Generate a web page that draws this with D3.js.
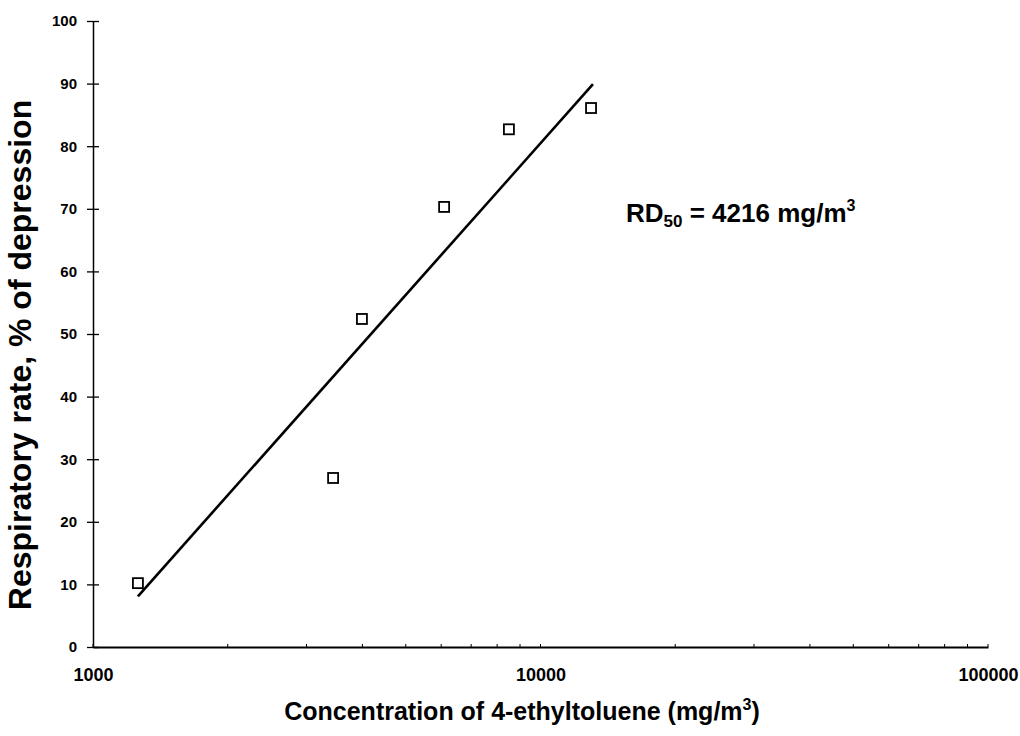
<!DOCTYPE html>
<html>
<head>
<meta charset="utf-8">
<script src="https://cdn.jsdelivr.net/npm/d3@7/dist/d3.min.js"></script>
<style>
html,body{margin:0;padding:0;background:#fff;}
svg{display:block;font-family:"Liberation Sans",Arial,sans-serif;font-weight:bold;}
</style>
</head>
<body>
<svg id="chart" width="1020" height="736"></svg>
<script>
// Data
const concentrations = [1260, 3440, 3990, 6090, 8500, 12970];
const depression = [10.2, 27.0, 52.4, 70.3, 82.7, 86.1];
const fitX = [1260, 13100];
const fitY = [8.1, 89.9];
const yTicks = [0, 10, 20, 30, 40, 50, 60, 70, 80, 90, 100];
const xMajorTicks = [1000, 10000, 100000];
const xMinorTicks = [2000, 3000, 4000, 5000, 6000, 7000, 8000, 9000,
                     20000, 30000, 40000, 50000, 60000, 70000, 80000, 90000];

const svg = d3.select("#chart");
const x = d3.scaleLog().domain([1000, 100000]).range([93, 988]);
const y = d3.scaleLinear().domain([0, 100]).range([647, 21]);

// Y axis
const yAxis = d3.axisLeft(y).tickValues(yTicks).tickSizeInner(5).tickSizeOuter(0).tickPadding(10).tickFormat(d3.format("d"));
const gy = svg.append("g").attr("transform", `translate(${x(1000)},0)`).call(yAxis);
gy.select(".domain").attr("stroke", "#000").attr("stroke-width", 1.5);
gy.selectAll(".tick line").attr("x2", 6).attr("x1", -6).attr("stroke-width", 1.3);
gy.selectAll(".tick text").attr("font-size", 15).attr("font-weight", "bold").attr("fill", "#000").attr("x", -16);

// X axis
const xAxis = d3.axisBottom(x).tickValues(xMajorTicks).tickSize(0).tickPadding(21).tickFormat(d3.format("d"));
const gx = svg.append("g").attr("transform", `translate(0,${y(0)})`).call(xAxis);
gx.select(".domain").attr("stroke", "#000").attr("stroke-width", 2);
gx.selectAll(".tick text").attr("font-size", 18).attr("font-weight", "bold").attr("fill", "#000");
gx.selectAll(".minor").data(xMinorTicks.concat(xMajorTicks)).enter().append("line")
  .attr("x1", d => x(d)).attr("x2", d => x(d)).attr("y1", 0).attr("y2", -3)
  .attr("stroke", "#000").attr("stroke-width", 1);

// Regression line
svg.append("path")
  .datum(fitX.map((d, i) => [d, fitY[i]]))
  .attr("d", d3.line().x(d => x(d[0])).y(d => y(d[1])))
  .attr("stroke", "#000").attr("stroke-width", 2.6).attr("fill", "none");

// Points
svg.selectAll(".pt").data(concentrations.map((d, i) => [d, depression[i]])).enter()
  .append("rect")
  .attr("x", d => x(d[0]) - 5).attr("y", d => y(d[1]) - 5)
  .attr("width", 10).attr("height", 10)
  .attr("fill", "#fff").attr("stroke", "#000").attr("stroke-width", 1.8);

// Annotation
const ann = svg.append("text").attr("x", 626).attr("y", 222).attr("font-size", 26).attr("fill", "#000");
ann.append("tspan").text("RD");
ann.append("tspan").attr("font-size", 17).attr("dy", 5).text("50");
ann.append("tspan").attr("dy", -5).text(" = 4216 mg/m");
ann.append("tspan").attr("font-size", 16).attr("dy", -11).text("3");

// X title
const xt = svg.append("text").attr("x", 522).attr("y", 720).attr("text-anchor", "middle").attr("font-size", 25).attr("fill", "#000");
xt.append("tspan").text("Concentration of 4-ethyltoluene (mg/m");
xt.append("tspan").attr("font-size", 16).attr("dy", -10).text("3");
xt.append("tspan").attr("dy", 10).text(")");

// Y title
svg.append("text").attr("transform", "translate(31,355) rotate(-90)")
  .attr("text-anchor", "middle").attr("font-size", 32).attr("fill", "#000")
  .text("Respiratory rate, % of depression");
</script>
</body>
</html>
